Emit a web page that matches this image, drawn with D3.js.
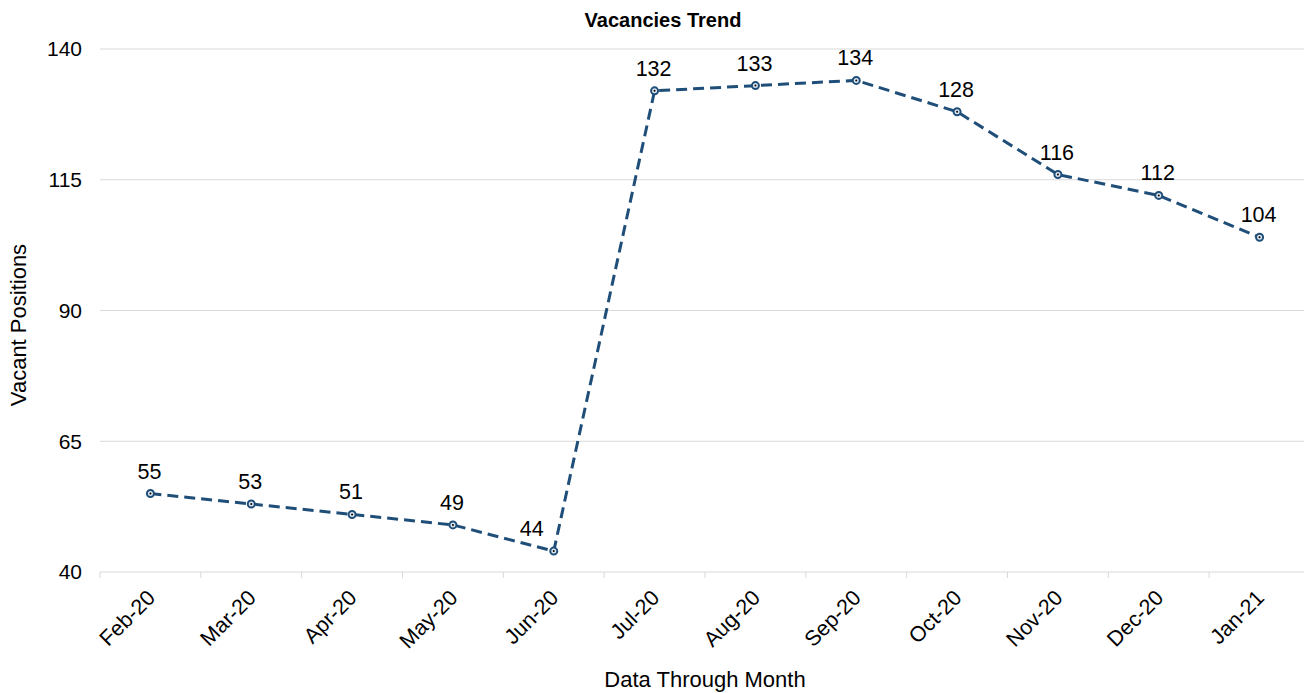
<!DOCTYPE html>
<html>
  <head>
    <title>Vacancies Trend</title>
    <script src="https://d3js.org/d3.v7.min.js"></script>
    <style>
      body { margin: 0; background: #fff; }
      text { font-family: "Liberation Sans", Arial, sans-serif; fill: #000; }
    </style>
  </head>
  <body>
    <div id="chart"></div>
    <script>
      // chart data
      const months = ["Feb-20", "Mar-20", "Apr-20", "May-20", "Jun-20", "Jul-20",
        "Aug-20", "Sep-20", "Oct-20", "Nov-20", "Dec-20", "Jan-21"];
      const vacancies = [55, 53, 51, 49, 44, 132, 133, 134, 128, 116, 112, 104];
      const yTicks = [40, 65, 90, 115, 140];

      const W = 1304, H = 693;
      const margin = { top: 49, right: -6, bottom: 121, left: 100 };

      const svg = d3.select("#chart").append("svg")
        .attr("width", W).attr("height", H);

      const x = d3.scaleBand().domain(months)
        .range([margin.left, W - margin.right]);
      const y = d3.scaleLinear().domain([40, 140])
        .range([H - margin.bottom, margin.top]);

      // gridlines
      svg.append("g").selectAll("line")
        .data(yTicks.slice(1))
        .join("line")
        .attr("x1", margin.left).attr("x2", W)
        .attr("y1", d => y(d)).attr("y2", d => y(d))
        .attr("stroke", "#d9d9d9").attr("stroke-width", 1);

      // y labels
      svg.append("g").selectAll("text")
        .data(yTicks)
        .join("text")
        .attr("x", 82).attr("y", d => y(d))
        .attr("dy", "0.35em")
        .attr("text-anchor", "end")
        .style("font-size", "21px")
        .text(d => d);

      // x axis
      const xAxis = svg.append("g")
        .attr("transform", `translate(0,${y(40)})`);
      xAxis.append("line")
        .attr("x1", margin.left).attr("x2", W)
        .attr("stroke", "#d9d9d9").attr("stroke-width", 1);
      xAxis.selectAll(".tick")
        .data(months)
        .join("line")
        .attr("class", "tick")
        .attr("x1", d => x(d)).attr("x2", d => x(d))
        .attr("y1", 0).attr("y2", 6)
        .attr("stroke", "#d9d9d9");
      xAxis.selectAll(".lbl")
        .data(months)
        .join("text")
        .attr("class", "lbl")
        .attr("text-anchor", "end")
        .attr("transform", d => `translate(${x(d) + x.bandwidth() / 2 + 6},${27}) rotate(-45)`)
        .style("font-size", "21.5px")
        .text(d => d);

      const cx = (d, i) => x(months[i]) + x.bandwidth() / 2;

      // line
      const line = d3.line()
        .x((d, i) => cx(d, i))
        .y(d => y(d));
      svg.append("path")
        .datum(vacancies)
        .attr("d", line)
        .attr("fill", "none")
        .attr("stroke", "#1f4e79")
        .attr("stroke-width", 3)
        .attr("stroke-dasharray", "11,6");

      // markers
      svg.append("g").selectAll("circle")
        .data(vacancies)
        .join("circle")
        .attr("cx", cx).attr("cy", d => y(d))
        .attr("r", 3.5)
        .attr("fill", "#dce6f0")
        .attr("stroke", "#1f4e79")
        .attr("stroke-width", 2);
      svg.append("g").selectAll("circle")
        .data(vacancies)
        .join("circle")
        .attr("cx", cx).attr("cy", d => y(d))
        .attr("r", 1)
        .attr("fill", "#000");

      // value labels; move a label left when the next segment climbs steeply
      const steep = (d, i) => i < vacancies.length - 1 && vacancies[i + 1] - d > 30;
      svg.append("g").selectAll("text")
        .data(vacancies)
        .join("text")
        .attr("x", (d, i) => cx(d, i) - (steep(d, i) ? 22 : 1))
        .attr("y", d => y(d) - 15)
        .attr("text-anchor", "middle")
        .style("font-size", "21.5px")
        .text(d => d);

      // titles
      svg.append("text")
        .attr("x", 663).attr("y", 27)
        .attr("text-anchor", "middle")
        .style("font-size", "20px").style("font-weight", "bold")
        .text("Vacancies Trend");
      svg.append("text")
        .attr("x", 705).attr("y", 687)
        .attr("text-anchor", "middle")
        .style("font-size", "22px")
        .text("Data Through Month");
      svg.append("text")
        .attr("transform", "translate(26,325) rotate(-90)")
        .attr("text-anchor", "middle")
        .style("font-size", "22px")
        .text("Vacant Positions");
    </script>
  </body>
</html>
